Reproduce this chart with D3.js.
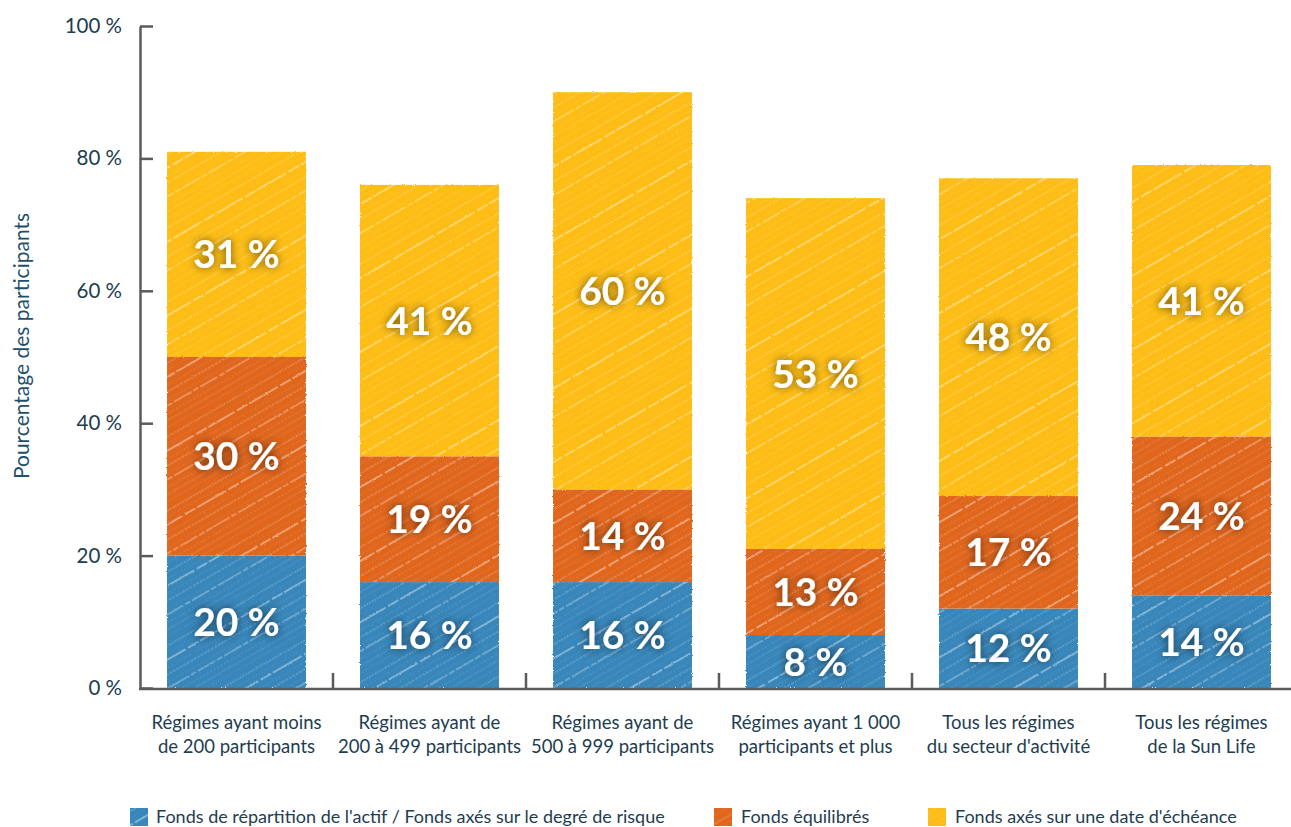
<!DOCTYPE html>
<html lang="fr">
<head>
<meta charset="utf-8">
<script src="https://cdn.jsdelivr.net/npm/d3@7"></script>
<style>
  html, body { margin: 0; padding: 0; background: #ffffff; }
  svg { display: block; font-family: Lato, "Open Sans", sans-serif; }
</style>
</head>
<body>
<svg id="chart" width="1291" height="827"></svg>
<script>
// Plan categories (two lines each)
const categories = [
  ["Régimes ayant moins", "de 200 participants"],
  ["Régimes ayant de", "200 à 499 participants"],
  ["Régimes ayant de", "500 à 999 participants"],
  ["Régimes ayant 1 000", "participants et plus"],
  ["Tous les régimes", "du secteur d'activité"],
  ["Tous les régimes", "de la Sun Life"]
];

// Series, stacked from bottom to top (percent of participants)
const seriesNames = [
  "Fonds de répartition de l'actif / Fonds axés sur le degré de risque",
  "Fonds équilibrés",
  "Fonds axés sur une date d'échéance"
];
const riskFunds     = [20, 16, 16, 8, 12, 14];
const balancedFunds = [30, 19, 14, 13, 17, 24];
const targetDate    = [31, 41, 60, 53, 48, 41];

const yTicks = [0, 20, 40, 60, 80, 100];
const yTitle = "Pourcentage des participants";

const colors = ["#3786ba", "#e0661f", "#fdbd14"];

// ---------------------------------------------------------------
const svg = d3.select("#chart");
const margin = { left: 140, top: 26, bottom: 688, right: 1298 };

const keys = categories.map(c => c.join(" "));
const rows = keys.map((k, i) => ({
  key: k, s0: riskFunds[i], s1: balancedFunds[i], s2: targetDate[i]
}));
const stack = d3.stack().keys(["s0", "s1", "s2"]);
const stacked = stack(rows);

const x = d3.scaleBand().domain(keys)
  .range([margin.left, margin.right])
  .paddingInner(0.28).paddingOuter(0.14);
const y = d3.scaleLinear().domain([0, 100]).range([margin.bottom, margin.top]);

const defs = svg.append("defs");

// Pencil-like hatching: thin white diagonal strokes of varying strength
const hatch = [
  { y: 3,  o: 0.45, w: 0.8, d: "2 1" },
  { y: 9,  o: 0.2,  w: 0.8, d: "1 2" },
  { y: 15, o: 0.75, w: 1.0, d: "30 3 12 2" },
  { y: 22, o: 0.25, w: 0.8, d: "1 2" },
  { y: 28, o: 0.4,  w: 0.8, d: "3 1" },
  { y: 35, o: 0.15, w: 0.8, d: "1 1" },
  { y: 40, o: 0.6,  w: 0.9, d: "20 2 6 2" },
  { y: 47, o: 0.22, w: 0.8, d: "2 2" },
  { y: 53, o: 0.35, w: 0.8, d: "1 1" },
  { y: 59, o: 0.15, w: 0.8, d: "2 1" }
];
colors.forEach((c, i) => {
  const p = defs.append("pattern")
    .attr("id", "hatch" + i)
    .attr("patternUnits", "userSpaceOnUse")
    .attr("width", 97).attr("height", 64)
    .attr("patternTransform", `rotate(-30) translate(${i * 17},${i * 11})`);
  p.append("rect").attr("width", 97).attr("height", 64).attr("fill", c);
  p.selectAll("line").data(hatch).join("line")
    .attr("x1", 0).attr("x2", 97)
    .attr("y1", d => d.y).attr("y2", d => d.y)
    .attr("stroke", "#ffffff")
    .attr("stroke-opacity", d => d.o)
    .attr("stroke-width", d => d.w)
    .attr("stroke-dasharray", d => d.d);
});

// Slightly ragged edges for the crayon look
const rough = defs.append("filter").attr("id", "rough")
  .attr("x", "-2%").attr("y", "-2%").attr("width", "104%").attr("height", "104%");
rough.append("feTurbulence").attr("type", "fractalNoise")
  .attr("baseFrequency", 0.9).attr("numOctaves", 2).attr("seed", 3).attr("result", "noise");
rough.append("feDisplacementMap").attr("in", "SourceGraphic").attr("in2", "noise")
  .attr("scale", 2.2).attr("xChannelSelector", "R").attr("yChannelSelector", "G");

// Dark glow behind value labels
const glow = defs.append("filter").attr("id", "glow")
  .attr("x", "-30%").attr("y", "-50%").attr("width", "160%").attr("height", "200%");
glow.append("feDropShadow").attr("dx", 0).attr("dy", 0)
  .attr("stdDeviation", 4.5).attr("flood-color", "#000000").attr("flood-opacity", 0.6);

// Bars
const layers = svg.append("g").attr("class", "bars");
stacked.forEach((layer, li) => {
  layers.append("g")
    .selectAll("rect").data(layer).join("rect")
    .attr("x", d => x(d.data.key))
    .attr("width", x.bandwidth())
    .attr("y", d => y(d[1]))
    .attr("height", d => y(d[0]) - y(d[1]))
    .attr("fill", `url(#hatch${li})`)
    .attr("filter", "url(#rough)");
});

// Value labels
const labels = svg.append("g").attr("class", "values");
stacked.forEach(layer => {
  labels.append("g")
    .selectAll("text").data(layer).join("text")
    .attr("x", d => x(d.data.key) + x.bandwidth() / 2)
    .attr("y", d => y((d[0] + d[1]) / 2))
    .attr("dy", "0.36em")
    .attr("text-anchor", "middle")
    .attr("fill", "#ffffff")
    .attr("font-weight", 700)
    .attr("font-size", 39)
    .attr("filter", "url(#glow)")
    .text(d => (d[1] - d[0]) + " %");
});

// Y axis
const axisColor = "#5b5b5b";
const textColor = "#1e3d50";
const yAxis = svg.append("g")
  .attr("transform", `translate(${margin.left},0)`)
  .call(d3.axisLeft(y).tickValues(yTicks).tickSizeInner(-13).tickSizeOuter(0)
    .tickPadding(18).tickFormat(d => d + " %"));
yAxis.select(".domain").attr("stroke", axisColor).attr("stroke-width", 2.5);
yAxis.selectAll(".tick line").attr("stroke", axisColor).attr("stroke-width", 2.5);
yAxis.selectAll(".tick text").attr("fill", textColor)
  .attr("font-size", 20.5).attr("font-family", "Lato, sans-serif");

// X axis baseline and band separators
svg.append("line")
  .attr("x1", margin.left - 1).attr("x2", 1291)
  .attr("y1", y(0) + 1).attr("y2", y(0) + 1)
  .attr("stroke", axisColor).attr("stroke-width", 2.5);
const step = x.step();
svg.append("g").selectAll("line").data(keys.slice(1)).join("line")
  .attr("x1", d => x(d) - step * x.paddingInner() / 2)
  .attr("x2", d => x(d) - step * x.paddingInner() / 2)
  .attr("y1", y(0)).attr("y2", y(0) - 15)
  .attr("stroke", axisColor).attr("stroke-width", 2.5);

// Category labels
const catG = svg.append("g").attr("class", "categories");
catG.selectAll("text").data(categories).join("text")
  .attr("x", (d, i) => x(keys[i]) + x.bandwidth() / 2)
  .attr("y", 729)
  .attr("text-anchor", "middle")
  .attr("fill", textColor)
  .attr("font-size", 18.5)
  .each(function (d) {
    const t = d3.select(this);
    d.forEach((line, j) => {
      t.append("tspan").attr("x", t.attr("x")).attr("dy", j ? 24 : 0).text(line);
    });
  });

// Y axis title
svg.append("text")
  .attr("transform", `translate(29,${(y(0) + y(100)) / 2 - 11}) rotate(-90)`)
  .attr("text-anchor", "middle")
  .attr("fill", "#1f4f6a")
  .attr("font-size", 21)
  .text(yTitle);

// Legend
const legendX = [130, 714, 928];
const legend = svg.append("g").attr("class", "legend");
const items = legend.selectAll("g").data(seriesNames).join("g")
  .attr("transform", (d, i) => `translate(${legendX[i]},808)`);
items.append("rect")
  .attr("width", 18).attr("height", 18)
  .attr("fill", (d, i) => `url(#hatch${i})`)
  .attr("filter", "url(#rough)");
items.append("text")
  .attr("x", (d, i) => i === 0 ? 26 : 27)
  .attr("y", 9).attr("dy", "0.36em")
  .attr("fill", textColor)
  .attr("font-size", 18)
  .text(d => d);
</script>
</body>
</html>
